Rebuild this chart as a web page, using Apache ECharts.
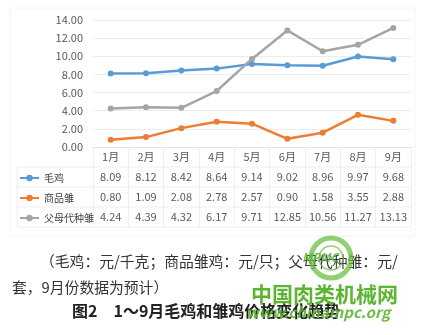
<!DOCTYPE html>
<html><head><meta charset="utf-8">
<script src="https://cdn.jsdelivr.net/npm/echarts@6/dist/echarts.min.js"></script>
<style>html,body{margin:0;padding:0;background:#fff;}#c{width:425px;height:335px;}</style>
</head><body><div id="c"></div>
<script>
const months = ['1月','2月','3月','4月','5月','6月','7月','8月','9月'];
const seriesNames = ['毛鸡','商品雏','父母代种雏'];
const maoji = [8.09, 8.12, 8.42, 8.64, 9.14, 9.02, 8.96, 9.97, 9.68];
const shangpinchu = [0.80, 1.09, 2.08, 2.78, 2.57, 0.90, 1.58, 3.55, 2.88];
const fumudai = [4.24, 4.39, 4.32, 6.17, 9.71, 12.85, 10.56, 11.27, 13.13];
const yTicks = [0, 2, 4, 6, 8, 10, 12, 14];
const colors = ['#5b9bd5', '#ed7d31', '#a5a5a5'];
const captionLine1 = '（毛鸡：元/千克；商品雏鸡：元/只；父母代种雏：元/';
const captionLine2 = '套，9月份数据为预计）';
const figTitle = '图2　1～9月毛鸡和雏鸡价格变化趋势';

const allData = [maoji, shangpinchu, fumudai];
const FONT = '"Noto Sans CJK SC", "Noto Sans", sans-serif';
const gridL = 93, gridR = 14, gridT = 20, axisY = 147;
const rowH = 20;
const chart = echarts.init(document.getElementById('c'), null, {renderer: 'canvas'});

const tableLines = [];
const tLeft = 17, tRight = 425 - gridR;
for (let k = 1; k <= 4; k++) {
  const y = axisY + k * rowH;
  tableLines.push({type: 'line', silent: true, shape: {x1: tLeft, y1: y, x2: tRight, y2: y}, style: {stroke: '#efefef', lineWidth: 1}});
}
tableLines.push({type: 'line', silent: true, shape: {x1: tLeft, y1: axisY + rowH, x2: tLeft, y2: axisY + 4 * rowH}, style: {stroke: '#efefef', lineWidth: 1}});
tableLines.push({type: 'rect', silent: true, shape: {x: 10, y: 8, width: 405, height: 228}, style: {fill: 'none', stroke: '#f4f4f4', lineWidth: 1}});

const option = {
  backgroundColor: '#fff',
  animation: false,
  color: colors,
  textStyle: {fontFamily: FONT},
  grid: {left: gridL, right: gridR, top: gridT, bottom: 335 - axisY, containLabel: false},
  legend: {
    orient: 'vertical', left: 14, top: axisY + rowH - 1,
    itemWidth: 19, itemHeight: 8, itemGap: 6,
    textStyle: {fontSize: 10, color: '#404040', lineHeight: 14, fontFamily: FONT},
    data: seriesNames
  },
  xAxis: {
    type: 'category', data: months, boundaryGap: true,
    axisLine: {show: true, lineStyle: {color: '#e2e2e2'}},
    axisTick: {show: true, length: rowH * 4, lineStyle: {color: '#efefef'}},
    axisLabel: {
      margin: 0, interval: 0,
      formatter: function (v, i) {
        return '{m|' + v + '}\n{v|' + maoji[i].toFixed(2) + '}\n{v|' + shangpinchu[i].toFixed(2) + '}\n{v|' + fumudai[i].toFixed(2) + '}';
      },
      rich: {
        m: {fontSize: 11, color: '#595959', lineHeight: rowH, fontFamily: FONT},
        v: {fontSize: 11, color: '#595959', lineHeight: rowH, fontFamily: FONT}
      }
    }
  },
  yAxis: {
    type: 'value', min: yTicks[0], max: yTicks[yTicks.length - 1], interval: yTicks[1] - yTicks[0],
    axisLine: {show: false}, axisTick: {show: false},
    splitLine: {lineStyle: {color: '#ececec'}},
    axisLabel: {formatter: v => v.toFixed(2), fontSize: 11, color: '#595959', margin: 10, fontFamily: FONT}
  },
  series: seriesNames.map((n, i) => ({
    name: n, type: 'line', data: allData[i],
    symbol: 'circle', symbolSize: 6,
    lineStyle: {width: 2.5, color: colors[i]},
    itemStyle: {color: colors[i]}
  })),
  graphic: tableLines.concat([
    {type: 'text', left: 40, top: 254, style: {text: captionLine1, font: '14.8px ' + FONT, fill: '#333'}},
    {type: 'text', left: 12, top: 280, style: {text: captionLine2, font: '14.8px ' + FONT, fill: '#333'}},
    {type: 'text', left: 72, top: 303, style: {text: figTitle, font: 'bold 16px ' + FONT, fill: '#222'}},
    {type: 'circle', silent: true, shape: {cx: 331, cy: 258, r: 20}, style: {fill: 'none', stroke: '#6cbf44', lineWidth: 5, opacity: 0.75}},
    {type: 'circle', silent: true, shape: {cx: 331, cy: 258, r: 12}, style: {fill: 'none', stroke: '#6cbf44', lineWidth: 1.5, opacity: 0.75}},
    {type: 'text', left: 302, top: 251, style: {text: 'MPMC', font: 'italic bold 12px ' + FONT, fill: '#5fb83a', opacity: 0.85}},
    {type: 'text', left: 251, top: 284, style: {text: '中国肉类机械网', font: 'bold 21px ' + FONT, fill: '#5cb531'}},
    {type: 'text', left: 246, top: 305, style: {text: 'www.chinampc.org', font: 'italic bold 15px ' + FONT, fill: '#5cb531', opacity: 0.9}}
  ])
};
chart.setOption(option);
</script></body></html>
